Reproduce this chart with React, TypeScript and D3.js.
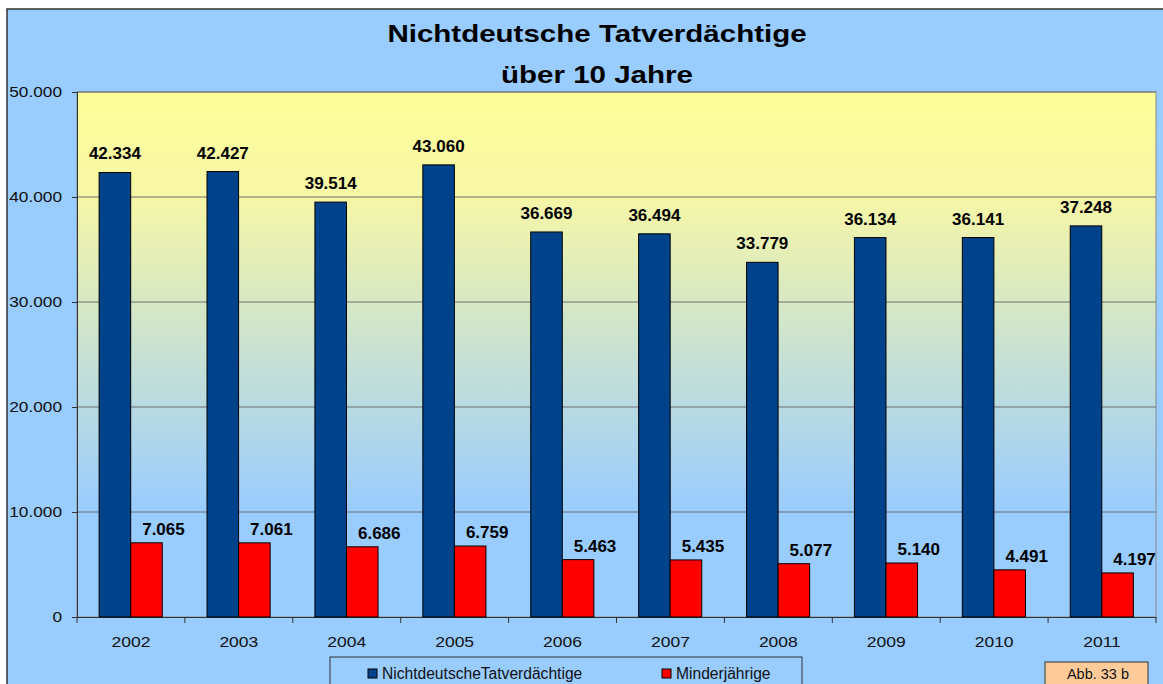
import { useEffect, useRef } from 'react';
import * as d3 from 'd3';

const years = ['2002', '2003', '2004', '2005', '2006', '2007', '2008', '2009', '2010', '2011'];
const nichtdeutsche = [42334, 42427, 39514, 43060, 36669, 36494, 33779, 36134, 36141, 37248];
const minderjaehrige = [7065, 7061, 6686, 6759, 5463, 5435, 5077, 5140, 4491, 4197];
const yTicks = [0, 10000, 20000, 30000, 40000, 50000];
const seriesNames = ['NichtdeutscheTatverdächtige', 'Minderjährige'];
const seriesColors = ['#00438A', '#FF0000'];

const W = 1163;
const H = 684;
const FONT = 'Arial, "Liberation Sans", sans-serif';

const fmt = (v: number) => d3.format(',')(v).replace(/,/g, '.');

export default function App() {
  const ref = useRef<SVGSVGElement>(null);

  useEffect(() => {
    if (!ref.current) return;
    const svg = d3.select(ref.current);
    svg.selectAll('*').remove();

    const plot = { left: 77, right: 1156, top: 92, bottom: 617 };

    // gradient for the plot area
    const grad = svg
      .append('defs')
      .append('linearGradient')
      .attr('id', 'plotbg')
      .attr('x1', 0)
      .attr('x2', 0)
      .attr('y1', 0)
      .attr('y2', 1);
    grad.append('stop').attr('offset', '0').attr('stop-color', '#FFFF99');
    grad.append('stop').attr('offset', '0.2').attr('stop-color', '#F6F6A6');
    grad.append('stop').attr('offset', '0.8').attr('stop-color', '#99CCFF');
    grad.append('stop').attr('offset', '1').attr('stop-color', '#99CCFF');

    // chart frame
    svg
      .append('rect')
      .attr('x', 7)
      .attr('y', 9)
      .attr('width', W)
      .attr('height', H)
      .attr('fill', '#99CCFF')
      .attr('stroke', '#333')
      .attr('stroke-width', 1.5);

    const x0 = d3.scaleBand().domain(years).range([plot.left, plot.right]).padding(0);
    const bw = x0.bandwidth();
    const x1 = d3
      .scaleBand()
      .domain(seriesNames)
      .range([bw * 0.205, bw * 0.79])
      .padding(0);
    const y = d3.scaleLinear().domain([0, 50000]).range([plot.bottom, plot.top]);

    svg
      .append('rect')
      .attr('x', plot.left)
      .attr('y', plot.top)
      .attr('width', plot.right - plot.left)
      .attr('height', plot.bottom - plot.top)
      .attr('fill', 'url(#plotbg)')
      .attr('stroke', '#8a8a8a');

    // gridlines
    svg
      .append('g')
      .selectAll('line')
      .data(yTicks.filter(t => t > 0))
      .join('line')
      .attr('x1', plot.left)
      .attr('x2', plot.right)
      .attr('y1', d => y(d))
      .attr('y2', d => y(d))
      .attr('stroke', '#6f6f6f')
      .attr('stroke-width', 1);

    // y axis (the source font is drawn a little wider than Arial)
    const ySx = 1.15;
    const yAxis = svg
      .append('g')
      .attr('transform', `translate(${plot.left},0)`)
      .call(
        d3
          .axisLeft(y)
          .tickValues(yTicks)
          .tickFormat(d => fmt(+d))
          .tickSize(5)
          .tickPadding(10)
      );
    yAxis.select('.domain').attr('stroke', '#333');
    yAxis.selectAll('line').attr('stroke', '#333');
    yAxis
      .selectAll('text')
      .attr('x', -15 / ySx)
      .attr('transform', `scale(${ySx},1)`)
      .style('font-family', FONT)
      .style('font-size', '15px')
      .attr('fill', '#111');

    // x axis
    const xAxis = svg
      .append('g')
      .attr('transform', `translate(0,${plot.bottom})`)
      .call(d3.axisBottom(x0).tickSize(0).tickPadding(20));
    xAxis.select('.domain').attr('stroke', '#333');
    xAxis
      .selectAll('text')
      .attr('transform', 'scale(1.25,1)')
      .style('font-family', FONT)
      .style('font-size', '14px')
      .attr('fill', '#111');
    svg
      .append('g')
      .selectAll('line')
      .data([...years.map(d => x0(d)!), plot.right])
      .join('line')
      .attr('x1', d => d)
      .attr('x2', d => d)
      .attr('y1', plot.bottom)
      .attr('y2', plot.bottom + 6)
      .attr('stroke', '#333');

    const series = [nichtdeutsche, minderjaehrige];

    // bars
    series.forEach((vals, si) => {
      const name = seriesNames[si];
      svg
        .append('g')
        .selectAll('rect')
        .data(vals)
        .join('rect')
        .attr('x', (_, i) => x0(years[i])! + x1(name)!)
        .attr('y', d => y(d))
        .attr('width', x1.bandwidth())
        .attr('height', d => y(0) - y(d))
        .attr('fill', seriesColors[si])
        .attr('stroke', '#000')
        .attr('stroke-width', 1);

      svg
        .append('g')
        .selectAll('text')
        .data(vals)
        .join('text')
        .attr('x', (_, i) => x0(years[i])! + x1(name)! + x1.bandwidth() / 2 + (si === 1 ? 17 : 0))
        .attr('y', d => y(d) - (si === 0 ? 13 : 8))
        .attr('text-anchor', 'middle')
        .style('font-family', FONT)
        .style('font-size', '17px')
        .style('font-weight', 'bold')
        .attr('fill', '#000')
        .text(d => fmt(d));
    });

    // title
    const title = svg
      .append('text')
      .attr('transform', 'translate(597,0) scale(1.23,1)')
      .attr('text-anchor', 'middle')
      .style('font-family', FONT)
      .style('font-size', '24px')
      .style('font-weight', 'bold')
      .attr('fill', '#000');
    title.append('tspan').attr('x', 0).attr('y', 42).text('Nichtdeutsche Tatverdächtige');
    title.append('tspan').attr('x', 0).attr('y', 83).text('über 10 Jahre');

    // legend
    const lg = svg.append('g');
    lg.append('rect')
      .attr('x', 330)
      .attr('y', 657)
      .attr('width', 472)
      .attr('height', 40)
      .attr('fill', '#99CCFF')
      .attr('stroke', '#333');
    const legendX = [368, 662];
    seriesNames.forEach((name, i) => {
      lg.append('rect')
        .attr('x', legendX[i])
        .attr('y', 669)
        .attr('width', 9)
        .attr('height', 9)
        .attr('fill', seriesColors[i])
        .attr('stroke', '#000');
      lg.append('text')
        .attr('x', legendX[i] + 14)
        .attr('y', 679)
        .style('font-family', FONT)
        .style('font-size', '15.6px')
        .attr('fill', '#111')
        .text(name);
    });

    // figure label
    svg
      .append('rect')
      .attr('x', 1045)
      .attr('y', 662)
      .attr('width', 103)
      .attr('height', 30)
      .attr('fill', '#FFCC99')
      .attr('stroke', '#333');
    svg
      .append('text')
      .attr('x', 1098)
      .attr('y', 679)
      .attr('text-anchor', 'middle')
      .style('font-family', FONT)
      .style('font-size', '14.5px')
      .attr('fill', '#111')
      .text('Abb. 33 b');
  }, []);

  return (
    <div style={{ position: 'fixed', left: 0, top: 0, background: '#fff' }}>
      <svg ref={ref} width={W} height={H} style={{ display: 'block' }} />
    </div>
  );
}
